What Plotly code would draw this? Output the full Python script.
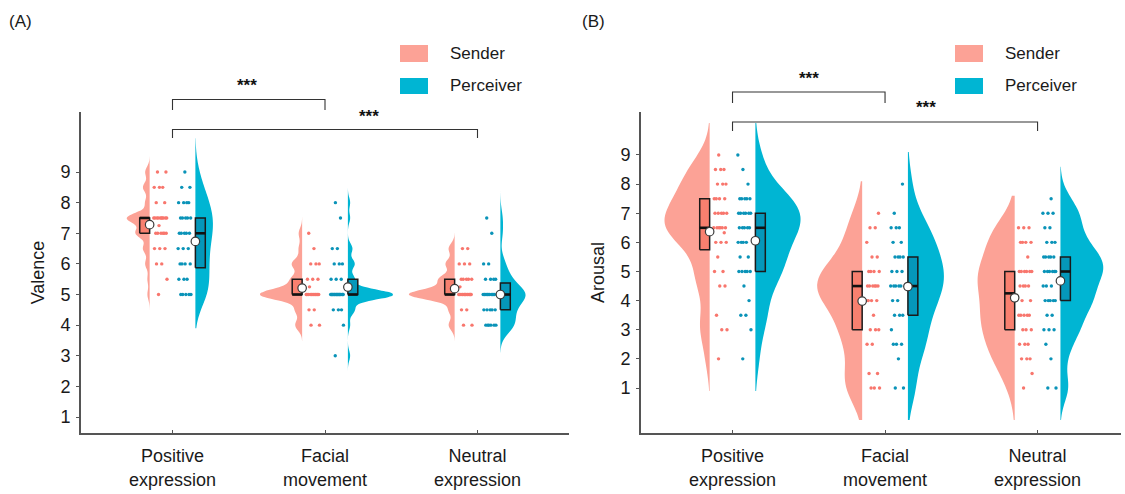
import numpy as np
import plotly.graph_objects as go

# ---------------- data (value, count) ----------------
CATEGORIES = ["Positive<br>expression", "Facial<br>movement", "Neutral<br>expression"]
CAT_POS = [1, 2, 3]

VALENCE_SENDER_POSITIVE = [(9.0, 2), (8.5, 3), (8.0, 2), (7.5, 10), (7.25, 1), (7.0, 6), (6.5, 3), (6.0, 2), (5.5, 1), (5.0, 1)]
VALENCE_SENDER_FACIAL = [(7.0, 1), (6.5, 1), (6.0, 3), (5.5, 3), (5.25, 1), (5.0, 12), (4.5, 2), (4.0, 2)]
VALENCE_SENDER_NEUTRAL = [(6.5, 2), (6.0, 3), (5.5, 5), (5.25, 1), (5.0, 15), (4.5, 2), (4.0, 2)]
VALENCE_PERCEIVER_POSITIVE = [(9.0, 1), (8.5, 2), (8.0, 4), (7.5, 5), (7.0, 5), (6.5, 3), (6.0, 4), (5.5, 3), (5.0, 5)]
VALENCE_PERCEIVER_FACIAL = [(8.0, 1), (7.5, 1), (6.5, 2), (6.0, 3), (5.5, 3), (5.0, 20), (4.5, 3), (4.0, 1), (3.0, 1)]
VALENCE_PERCEIVER_NEUTRAL = [(7.5, 1), (7.0, 1), (6.0, 2), (5.5, 4), (5.0, 11), (4.5, 5), (4.0, 6)]

AROUSAL_SENDER_POSITIVE = [(9.0, 1), (8.5, 3), (8.0, 3), (7.5, 4), (7.0, 5), (6.5, 6), (6.33, 1), (6.0, 3), (5.5, 1), (5.0, 2), (4.5, 2), (3.5, 1), (3.0, 2), (2.0, 1)]
AROUSAL_SENDER_FACIAL = [(7.0, 1), (6.5, 2), (6.0, 1), (5.5, 2), (5.0, 4), (4.5, 6), (4.0, 4), (3.5, 1), (3.0, 3), (2.5, 2), (1.5, 2), (1.0, 3)]
AROUSAL_SENDER_NEUTRAL = [(6.5, 3), (6.0, 4), (5.5, 1), (5.0, 6), (4.5, 4), (4.0, 2), (3.5, 5), (3.0, 3), (2.5, 3), (2.0, 3), (1.5, 1), (1.0, 1)]
AROUSAL_PERCEIVER_POSITIVE = [(9.0, 1), (8.5, 1), (8.0, 1), (7.5, 5), (7.0, 6), (6.5, 5), (6.0, 4), (5.5, 2), (5.0, 5), (4.5, 1), (4.0, 1), (3.5, 2), (3.0, 1), (2.0, 1)]
AROUSAL_PERCEIVER_FACIAL = [(8.0, 1), (7.0, 1), (6.5, 3), (6.0, 2), (5.5, 4), (5.0, 3), (4.5, 5), (4.0, 2), (3.5, 3), (3.0, 1), (2.5, 3), (2.0, 1), (1.0, 2)]
AROUSAL_PERCEIVER_NEUTRAL = [(7.5, 1), (7.0, 3), (6.5, 2), (6.0, 3), (5.5, 5), (5.0, 6), (4.5, 3), (4.0, 5), (3.5, 2), (3.0, 3), (2.5, 1), (2.0, 1), (1.0, 2)]

Y_TICKS = [1, 2, 3, 4, 5, 6, 7, 8, 9]
SIGNIF_LABEL = "***"

# ---------------- style ----------------
W, H = 1125, 494
FONT = "Arial, Liberation Sans, sans-serif"
VIOLIN_S, VIOLIN_P = "#FCA296", "#00B5D3"
DOT_S, DOT_P = "#F8766D", "#0A93B8"
BOX_S, BOX_P = "#F8806F", "#0597BA"
EDGE = 0.15       # offset of violin flat edge from category
BOX_W = 0.065
DOT_BAND_S = (-0.125, -0.035)
DOT_BAND_P = (0.035, 0.122)
GOLD = 0.6180339887
MAX_TAIL = 1.1


def expand(pairs):
    return np.concatenate([np.full(c, v, dtype=float) for v, c in pairs])


def nrd0(vals):
    sd = np.std(vals, ddof=1)
    q1, q3 = np.percentile(vals, [25, 75])
    lo = min(sd, (q3 - q1) / 1.34)
    if lo <= 0:
        lo = sd
    return 0.9 * lo * len(vals) ** (-0.2)


def py(p):
    """pixel row -> paper fraction"""
    return 1 - p / H


def px(p):
    return p / W


fig = go.Figure()


def add_panel(sender_sets, perceiver_sets, xa, ya, half_s, half_p):
    for k, cat in enumerate(CAT_POS):
        for group, pairs, side, half, vcol in (
            ("s", sender_sets[k], "negative", half_s[k], VIOLIN_S),
            ("p", perceiver_sets[k], "positive", half_p[k], VIOLIN_P),
        ):
            vals = expand(pairs)
            bw = nrd0(vals)
            tail = min(3 * bw, MAX_TAIL)
            edge = cat - EDGE if group == "s" else cat + EDGE
            fig.add_trace(go.Violin(
                x0=edge, y=vals, side=side, width=2 * half, bandwidth=bw,
                fillcolor=vcol, line=dict(width=0, color=vcol), opacity=1,
                points=False, box_visible=False, meanline_visible=False,
                scalemode="width", spanmode="manual",
                span=[vals.min() - tail, vals.max() + tail], hoverinfo="skip",
                showlegend=False, xaxis=xa, yaxis=ya, orientation="v"))
    for k, cat in enumerate(CAT_POS):
        for group, pairs in (("s", sender_sets[k]), ("p", perceiver_sets[k])):
            vals = np.sort(expand(pairs))
            band = DOT_BAND_S if group == "s" else DOT_BAND_P
            frac = (0.37 + np.arange(len(vals)) * GOLD) % 1.0
            xs = cat + band[0] + frac * (band[1] - band[0])
            fig.add_trace(go.Scatter(
                x=xs, y=vals, mode="markers",
                marker=dict(size=3.4, color=DOT_S if group == "s" else DOT_P),
                hoverinfo="skip", showlegend=False, xaxis=xa, yaxis=ya))
            q1, med, q3 = np.percentile(vals, [25, 50, 75])
            edge = cat - EDGE if group == "s" else cat + EDGE
            x0, x1 = (edge - BOX_W, edge) if group == "s" else (edge, edge + BOX_W)
            fig.add_trace(go.Scatter(
                x=[x0, x1, x1, x0, x0], y=[q1, q1, q3, q3, q1], mode="lines",
                fill="toself", fillcolor=BOX_S if group == "s" else BOX_P,
                line=dict(color="#1a1a1a", width=1.5), hoverinfo="skip",
                showlegend=False, xaxis=xa, yaxis=ya))
            fig.add_trace(go.Scatter(
                x=[x0, x1], y=[med, med], mode="lines",
                line=dict(color="#111111", width=2.6), hoverinfo="skip",
                showlegend=False, xaxis=xa, yaxis=ya))
    for k, cat in enumerate(CAT_POS):
        for group, pairs in (("s", sender_sets[k]), ("p", perceiver_sets[k])):
            vals = expand(pairs)
            edge = cat - EDGE if group == "s" else cat + EDGE
            fig.add_trace(go.Scatter(
                x=[edge], y=[vals.mean()], mode="markers",
                marker=dict(size=8.5, color="white", line=dict(color="#3a3a3a", width=1.2)),
                hoverinfo="skip", showlegend=False, xaxis=xa, yaxis=ya, cliponaxis=False))


add_panel([VALENCE_SENDER_POSITIVE, VALENCE_SENDER_FACIAL, VALENCE_SENDER_NEUTRAL],
          [VALENCE_PERCEIVER_POSITIVE, VALENCE_PERCEIVER_FACIAL, VALENCE_PERCEIVER_NEUTRAL],
          "x", "y", [0.15, 0.275, 0.30], [0.115, 0.295, 0.165])
add_panel([AROUSAL_SENDER_POSITIVE, AROUSAL_SENDER_FACIAL, AROUSAL_SENDER_NEUTRAL],
          [AROUSAL_PERCEIVER_POSITIVE, AROUSAL_PERCEIVER_FACIAL, AROUSAL_PERCEIVER_NEUTRAL],
          "x2", "y2", [0.295, 0.295, 0.243], [0.295, 0.236, 0.28])

AX_COL = "#555555"
xcommon = dict(tickmode="array", tickvals=CAT_POS, ticktext=CATEGORIES, showgrid=False,
               zeroline=False, showline=True, linecolor=AX_COL, linewidth=1.6,
               ticks="inside", ticklen=3, tickcolor=AX_COL, ticklabelstandoff=6,
               tickfont=dict(family=FONT, size=18, color="#1a1a1a"), fixedrange=True)
ycommon = dict(tickmode="array", tickvals=Y_TICKS, showgrid=False, zeroline=False,
               showline=True, linecolor=AX_COL, linewidth=1.6, ticks="outside",
               ticklen=3, tickcolor=AX_COL, ticklabelstandoff=2,
               tickfont=dict(family=FONT, size=18, color="#1a1a1a"), fixedrange=True)

fig.update_layout(
    width=W, height=H, margin=dict(l=0, r=0, t=0, b=0),
    paper_bgcolor="white", plot_bgcolor="white", violinmode="overlay",
    showlegend=False, font=dict(family=FONT, color="#1a1a1a"),
    xaxis=dict(domain=[px(81), px(569)], range=[0.4, 3.6], anchor="y", **xcommon),
    yaxis=dict(domain=[py(433), py(112)], range=[0.478, 10.96], anchor="x",
               title=dict(text="Valence", standoff=11, font=dict(family=FONT, size=18)), **ycommon),
    xaxis2=dict(domain=[px(641), px(1121)], range=[0.4, 3.547], anchor="y2", **xcommon),
    yaxis2=dict(domain=[py(433), py(112)], range=[-0.545, 10.476], anchor="x2",
                title=dict(text="Arousal", standoff=11, font=dict(family=FONT, size=18)), **ycommon),
)

shapes = []
annotations = []
BR_COL = "#333333"


def bracket(xref, a, b, y_line, y_end, text_x, text_y):
    shapes.append(dict(type="path", xref=xref, yref="paper",
                       path=f"M {a},{py(y_end)} L {a},{py(y_line)} L {b},{py(y_line)} L {b},{py(y_end)}",
                       line=dict(color=BR_COL, width=1.1)))
    annotations.append(dict(x=text_x, y=py(text_y), xref=xref, yref="paper",
                            text=f"<b>{SIGNIF_LABEL}</b>", showarrow=False,
                            font=dict(family=FONT, size=17, color="#111111"),
                            xanchor="center", yanchor="middle"))


bracket("x", CAT_POS[0], CAT_POS[1], 99.5, 110, 1.49, 85)
bracket("x", CAT_POS[0], CAT_POS[2], 129.5, 138, 2.29, 116)
bracket("x2", CAT_POS[0], CAT_POS[1], 92, 103, 1.5, 78)
bracket("x2", CAT_POS[0], CAT_POS[2], 122, 131, 2.27, 107)

# legends (drawn manually: wide swatches)
for x_sw, x_txt in ((400, 448), (955, 1003)):
    for (y0, y1, col, lab) in ((45, 62, VIOLIN_S, "Sender"), (78, 94, VIOLIN_P, "Perceiver")):
        shapes.append(dict(type="rect", xref="paper", yref="paper",
                           x0=px(x_sw), x1=px(x_sw + 28), y0=py(y1), y1=py(y0),
                           fillcolor=col, line=dict(width=0)))
        annotations.append(dict(x=px(x_txt), y=py((y0 + y1) / 2), xref="paper", yref="paper",
                                text=lab, showarrow=False, xanchor="left", yanchor="middle",
                                font=dict(family=FONT, size=17, color="#1a1a1a")))

annotations.append(dict(x=px(7), y=py(21), xref="paper", yref="paper", text="(A)",
                        showarrow=False, xanchor="left", yanchor="middle",
                        font=dict(family=FONT, size=17, color="#1a1a1a")))
annotations.append(dict(x=px(580), y=py(21), xref="paper", yref="paper", text="(B)",
                        showarrow=False, xanchor="left", yanchor="middle",
                        font=dict(family=FONT, size=17, color="#1a1a1a")))

fig.update_layout(shapes=shapes, annotations=annotations)
fig.write_html("out.html", config={"displayModeBar": False},
               post_script="document.body.style.margin='0';document.body.style.padding='0';"
                           "document.documentElement.style.overflow='hidden';")
